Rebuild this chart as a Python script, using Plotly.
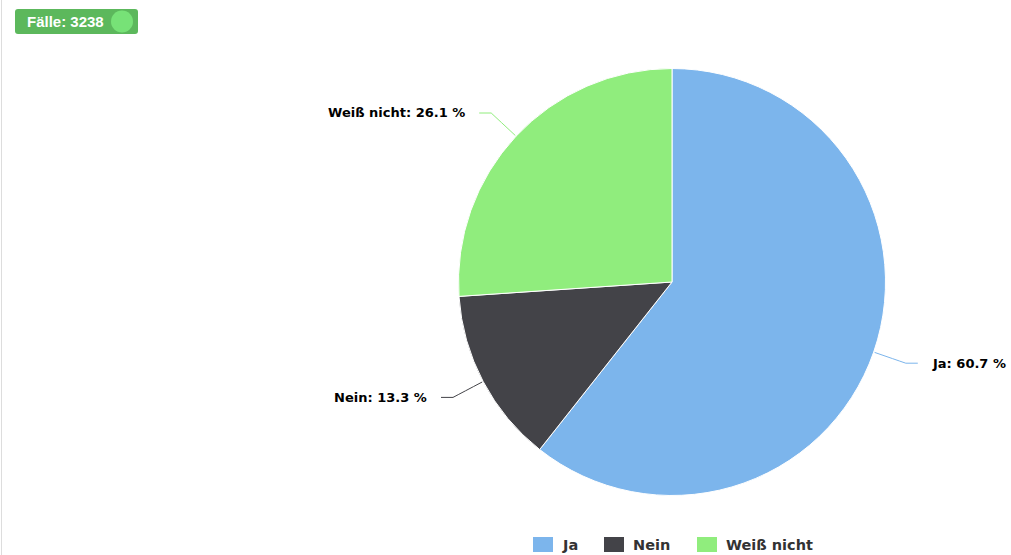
import math
import plotly.graph_objects as go

# Survey answers and their shares in percent
categories = ["Ja", "Nein", "Weiß nicht"]
shares = [60.7, 13.3, 26.1]
colors = ["#7cb5ec", "#434348", "#90ed7d"]
case_count = 3238

W, H = 1011, 555
CX, CY, R = 672, 282, 213.5  # pie centre and radius in pixels

fig = go.Figure()

fig.add_trace(go.Pie(
    labels=categories,
    values=shares,
    sort=False,
    direction="clockwise",
    rotation=0,
    marker=dict(colors=colors, line=dict(color="#ffffff", width=1)),
    textinfo="none",
    hoverinfo="label+percent",
    showlegend=False,
    domain=dict(x=[(CX - R) / W, (CX + R) / W], y=[(H - CY - R) / H, (H - CY + R) / H]),
))

# invisible pixel axes for connectors, labels and legend
fig.add_trace(go.Scatter(x=[0, W], y=[0, H], mode="markers", marker=dict(opacity=0),
                         hoverinfo="skip", showlegend=False))

shapes = []
annotations = []

label_font = dict(family="DejaVu Sans", size=13, color="#000000")
total = sum(shares)
start = 0.0
for name, val, col in zip(categories, shares, colors):
    mid = (start + val / 2) / total * 2 * math.pi
    start += val
    ux, uy = math.sin(mid), -math.cos(mid)
    ex, ey = CX + (R + 1) * ux, CY + (R + 1) * uy
    kx, ky = CX + (R + 34) * ux, CY + (R + 34) * uy
    side = 1 if ux >= 0 else -1
    lx, ly = kx + side * 12, ky
    cx1, cy1 = CX + (R + 22) * ux, CY + (R + 22) * uy
    shapes.append(dict(type="path", xref="x", yref="y",
                       path=f"M{ex:.1f},{ey:.1f} Q{cx1:.1f},{cy1:.1f} {kx:.1f},{ky:.1f} L{lx:.1f},{ly:.1f}",
                       line=dict(color=col, width=1)))
    annotations.append(dict(x=lx + side * 12, y=ly, xref="x", yref="y",
                            text=f"<b>{name}: {val:.1f} %</b>", showarrow=False,
                            xanchor="left" if side > 0 else "right", yanchor="middle",
                            font=label_font))

# legend along the bottom
legend_left = [533, 604, 697]
for name, col, x0 in zip(categories, colors, legend_left):
    shapes.append(dict(type="rect", xref="x", yref="y", x0=x0, x1=x0 + 20, y0=537, y1=552,
                       fillcolor=col, line=dict(width=0)))
    annotations.append(dict(x=x0 + 27, y=545, xref="x", yref="y", text=f"<b>{name}</b>",
                            showarrow=False, xanchor="left", yanchor="middle",
                            font=dict(family="DejaVu Sans", size=14.5, color="#333333")))

# case count badge
bx0, by0, bx1, by1, rad = 15, 9, 138, 34, 3
badge = (f"M{bx0 + rad},{by0} L{bx1 - rad},{by0} Q{bx1},{by0} {bx1},{by0 + rad} "
         f"L{bx1},{by1 - rad} Q{bx1},{by1} {bx1 - rad},{by1} L{bx0 + rad},{by1} "
         f"Q{bx0},{by1} {bx0},{by1 - rad} L{bx0},{by0 + rad} Q{bx0},{by0} {bx0 + rad},{by0} Z")
shapes.append(dict(type="path", xref="x", yref="y", path=badge, fillcolor="#5cb85c",
                   line=dict(width=0), layer="above"))
shapes.append(dict(type="circle", xref="x", yref="y", x0=111, x1=133, y0=10.5, y1=32.5,
                   fillcolor="#77e277", line=dict(width=0), layer="above"))
annotations.append(dict(x=25, y=21.5, xref="x", yref="y", text=f"<b>Fälle: {case_count}</b>",
                        showarrow=False, xanchor="left", yanchor="middle",
                        font=dict(family="Liberation Sans", size=15, color="#ffffff")))

# thin frame line on the left edge
shapes.append(dict(type="line", xref="x", yref="y", x0=1.5, x1=1.5, y0=0, y1=H,
                   line=dict(color="#dddddd", width=1)))

fig.update_layout(
    width=W, height=H,
    margin=dict(l=0, r=0, t=0, b=0),
    paper_bgcolor="#ffffff", plot_bgcolor="rgba(0,0,0,0)",
    xaxis=dict(range=[0, W], visible=False, fixedrange=True),
    yaxis=dict(range=[H, 0], visible=False, fixedrange=True),
    shapes=shapes, annotations=annotations,
    showlegend=False,
)

fig.write_html("out.html")
